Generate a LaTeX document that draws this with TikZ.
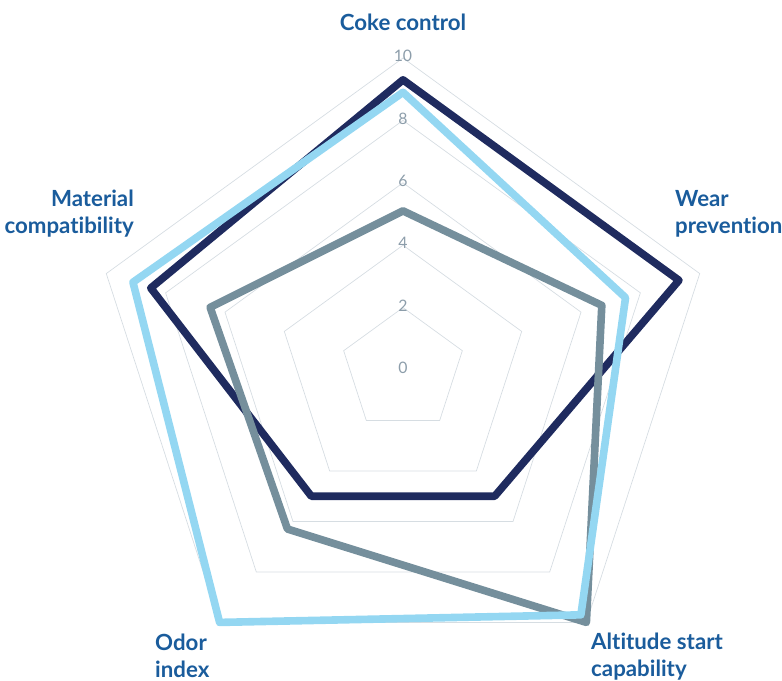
\documentclass[tikz,border=0pt]{standalone}
\usepackage{fontspec}
\setmainfont{Lato}[Ligatures=NoCommon]

\definecolor{navyLine}{HTML}{1F2B5F}
\definecolor{skyLine}{HTML}{94D7F2}
\definecolor{slateLine}{HTML}{758F9C}
\definecolor{labelBlue}{HTML}{1A5C9C}
\definecolor{tickGray}{HTML}{8C9DAA}
\definecolor{gridGray}{HTML}{D6DDE2}

\begin{document}
\begin{tikzpicture}[x=0.03cm,y=0.03cm]

\def\unitrad{31.2}

\tikzstyle{gridLine}=[draw=gridGray,line width=0.6pt]
\tikzstyle{series}=[line width=6.5pt,line join=round]
\tikzstyle{tickLabel}=[text=tickGray,font=\fontsize{13.5}{15}\selectfont,inner sep=0pt]
\tikzstyle{axisLabel}=[text=labelBlue,font=\fontsize{19}{23}\selectfont\bfseries,inner sep=0pt]

\useasboundingbox (-403,-311) rectangle (379,370);

%grid pentagons
\foreach \v in {2,4,...,10}
  \draw[gridLine] (90:{\v*\unitrad}) -- (18:{\v*\unitrad}) -- (-54:{\v*\unitrad}) -- (-126:{\v*\unitrad}) -- (162:{\v*\unitrad}) -- cycle;

%scale marks
\foreach \v in {0,2,...,10}
  \node[tickLabel] (tick\v) at (90:{\v*\unitrad+2}) {\v};

%series
\draw[series,navyLine] (90:{9.3*\unitrad}) -- (18:{9.3*\unitrad}) -- (-54:{5*\unitrad}) -- (-126:{5*\unitrad}) -- (162:{8.5*\unitrad}) -- cycle;
\draw[series,slateLine] (90:{5.1*\unitrad}) -- (18:{6.7*\unitrad}) -- (-54:{10*\unitrad}) -- (-126:{6.3*\unitrad}) -- (162:{6.5*\unitrad}) -- cycle;
\draw[series,skyLine] (90:{8.9*\unitrad}) -- (18:{7.5*\unitrad}) -- (-54:{9.7*\unitrad}) -- (-126:{10*\unitrad}) -- (162:{9.1*\unitrad}) -- cycle;

%axis labels
\node[axisLabel,align=center] (cokeLabel) at (0,348) {Coke control};
\node[axisLabel,align=left,anchor=west] (wearLabel) at (272,156) {Wear\\prevention};
\node[axisLabel,align=left,anchor=west] (altitudeLabel) at (188,-287) {Altitude start\\capability};
\node[axisLabel,align=left,anchor=west] (odorLabel) at (-248,-286) {Odor\\index};
\node[axisLabel,align=right,anchor=east] (materialLabel) at (-269,156) {Material\\compatibility};

\end{tikzpicture}
\end{document}
